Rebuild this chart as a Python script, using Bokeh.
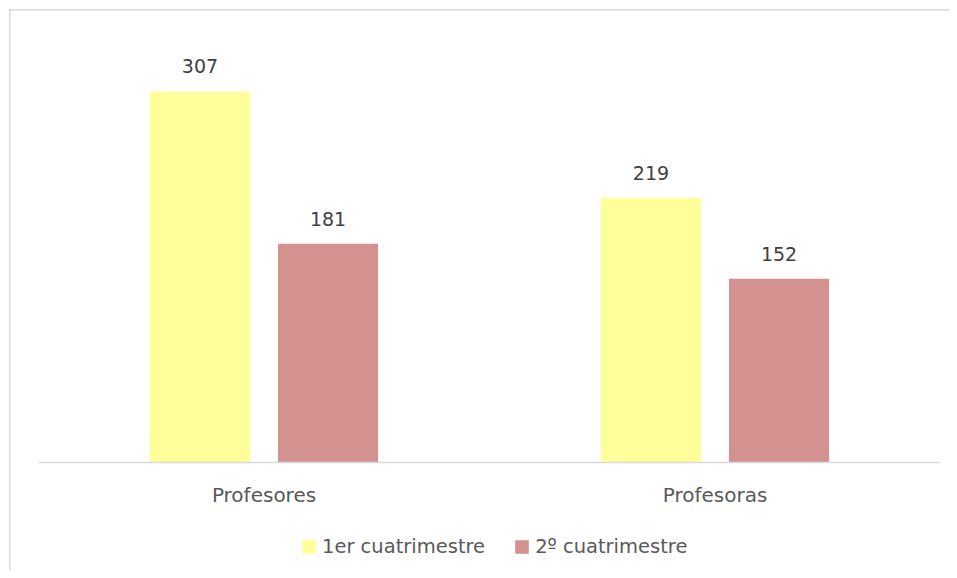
from bokeh.plotting import figure
from bokeh.models import ColumnDataSource, Range1d, Legend, LegendItem
from bokeh.core.properties import value
from bokeh.embed import file_html
from bokeh.resources import INLINE

categories = ["Profesores", "Profesoras"]
series_names = ["1er cuatrimestre", "2º cuatrimestre"]
primer = [307, 219]
segundo = [181, 152]
y_max = 350

FONT = "DejaVu Sans"
xc = [i + 0.5 for i in range(len(categories))]
off = 0.142
bw = 0.222

src = ColumnDataSource(data=dict(
    cat=categories,
    xc=xc,
    x1=[x - off for x in xc],
    x2=[x + off for x in xc],
    zero=[0] * len(categories),
    primer=primer,
    segundo=segundo,
    primer_lbl=[str(v) for v in primer],
    segundo_lbl=[str(v) for v in segundo],
))

# pixel geometry of the frame (frame = whole canvas)
W, H = 949, 570
ax_left, ax_right = 38, 940        # category axis extent in px
base_y, top_y = 462, 39            # baseline and y_max in px
ppu_x = (ax_right - ax_left) / len(categories)
ppu_y = (base_y - top_y) / y_max

p = figure(
    x_range=Range1d(-ax_left / ppu_x, len(categories) + (W - ax_right) / ppu_x),
    y_range=Range1d(-(H - base_y) / ppu_y, y_max + top_y / ppu_y),
    width=W, height=H,
    output_backend="svg", toolbar_location=None,
    x_axis_location=None, y_axis_location=None,
    min_border=0,
)
p.outline_line_color = None
p.xgrid.grid_line_color = None
p.ygrid.grid_line_color = None
p.background_fill_color = None
p.border_fill_color = None
p.styles = {
    "background": "linear-gradient(#d9d9d9, #d9d9d9) 9px 9px / 1.5px 100% no-repeat, "
                  "linear-gradient(#d9d9d9, #d9d9d9) 9px 9px / 100% 1.5px no-repeat, white",
}

r1 = p.vbar(x="x1", top="primer", width=bw, source=src,
            fill_color="#FFFF99", line_color=None)
r2 = p.vbar(x="x2", top="segundo", width=bw, source=src,
            fill_color="#D39190", line_color=None)

# category baseline (axis line)
p.segment(x0=0, y0=0, x1=len(categories), y1=0, line_color="#d9d9d9", line_width=1.5)

p.text(x="x1", y="primer", text="primer_lbl", source=src,
       text_align="center", text_baseline="middle", y_offset=-25,
       text_font=value(FONT), text_font_size="19px", text_color="#404040")
p.text(x="x2", y="segundo", text="segundo_lbl", source=src,
       text_align="center", text_baseline="middle", y_offset=-25,
       text_font=value(FONT), text_font_size="19px", text_color="#404040")

# category labels
p.text(x="xc", y="zero", text="cat", source=src,
       text_align="center", text_baseline="middle", y_offset=32,
       text_font=value(FONT), text_font_size="20px", text_color="#595959")

legend = Legend(
    items=[LegendItem(label=series_names[0], renderers=[r1]),
           LegendItem(label=series_names[1], renderers=[r2])],
    orientation="horizontal",
    location=(300, 12),
    glyph_width=17, glyph_height=17,
    label_standoff=5, spacing=28, padding=0, margin=0,
    label_text_font=FONT, label_text_font_size="19.5px", label_text_color="#595959",
    border_line_color=None, background_fill_alpha=0,
)
p.add_layout(legend, "center")

open("out.html", "w").write(file_html(p, INLINE))
